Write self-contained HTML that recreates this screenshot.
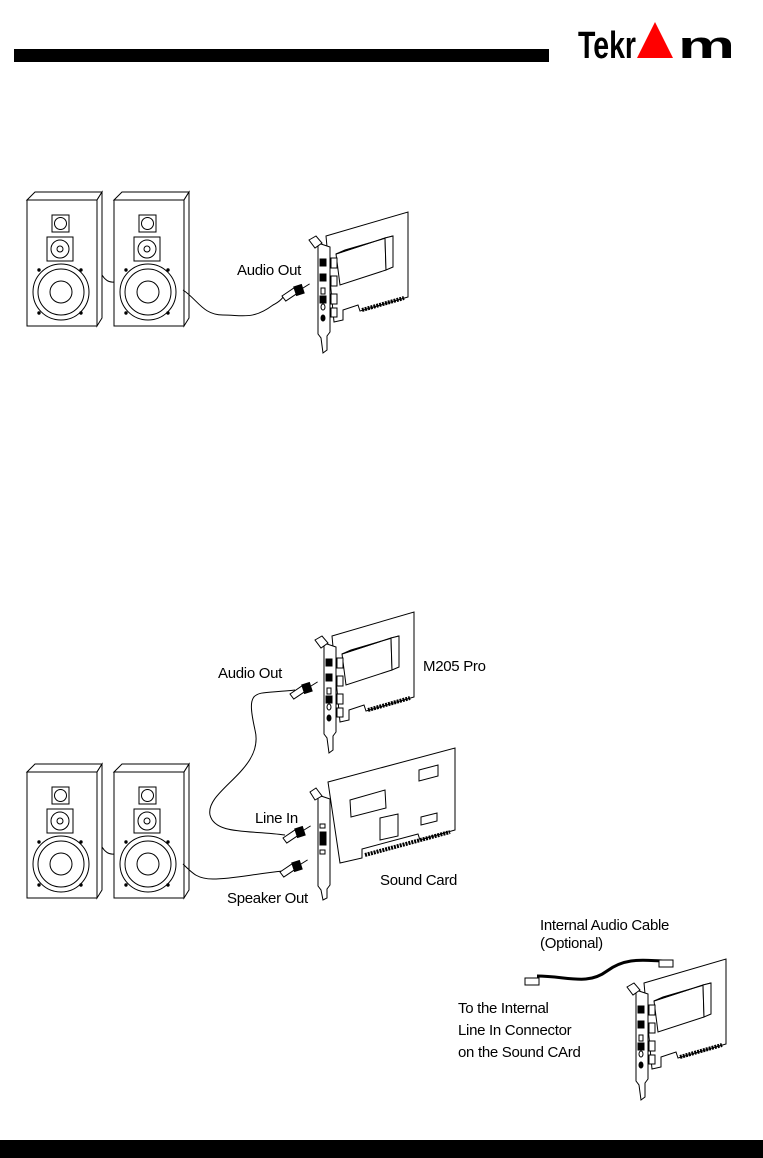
<!DOCTYPE html>
<html><head><meta charset="utf-8"><style>
html,body{margin:0;padding:0;background:#fff;}
svg{display:block;}
text{font-family:"Liberation Sans",sans-serif;font-size:15px;fill:#000;letter-spacing:-0.3px;}
</style></head><body>
<svg width="763" height="1158" viewBox="0 0 763 1158" xmlns="http://www.w3.org/2000/svg">
<defs>
<g id="spk" fill="#fff" stroke="#000" stroke-width="1">
  <polygon points="27,200 35,192 102,192 97,200"/>
  <rect x="27" y="200" width="70" height="126"/>
  <polygon points="97,200 102,192 102,318 97,326"/>
  <rect x="52" y="215" width="17" height="17"/><circle cx="60.5" cy="223.5" r="6"/>
  <rect x="47" y="237" width="26" height="24"/><circle cx="60" cy="249" r="9"/><circle cx="60" cy="249" r="3"/>
  <circle cx="61" cy="292" r="28"/><circle cx="61" cy="292" r="23"/><circle cx="61" cy="292" r="11"/>
  <circle cx="39" cy="270" r="1.2" fill="#000"/><circle cx="81" cy="270" r="1.2" fill="#000"/>
  <circle cx="39" cy="313" r="1.2" fill="#000"/><circle cx="81" cy="313" r="1.2" fill="#000"/>
</g>
<g id="spkpair">
  <use href="#spk"/>
  <use href="#spk" transform="translate(87,0)"/>
  <path d="M102,275 q5,8 12,7" fill="none" stroke="#000"/>
</g>
<g id="card" fill="#fff" stroke="#000" stroke-width="1">
  <polygon points="326,236 408,212 408,297 360,311 358,305 343,310 343,320 334,322"/>
  <polygon points="336,254 385,238 386,270 340,285"/>
  <polygon points="336,254 345,250 393,236 385,238"/>
  <polygon points="385,238 393,236 393,267 386,270"/>
  <path d="M362,310 l42,-12" stroke-width="4" stroke-dasharray="2,1"/>
  <rect x="331" y="258" width="6" height="10"/><rect x="331" y="276" width="6" height="10"/>
  <rect x="331" y="294" width="6" height="10"/><rect x="331" y="308" width="6" height="9"/>
  <polygon points="318,243 330,247 330,332 327,336 327,350 323,353 321,338 318,334"/>
  <polygon points="309,240 316,236 322,243 315,248"/>
  <rect x="320" y="259" width="6" height="7" fill="#000"/><rect x="320" y="274" width="6" height="7" fill="#000"/>
  <rect x="321" y="288" width="4" height="6"/><rect x="320" y="296" width="6" height="7" fill="#000"/>
  <ellipse cx="323" cy="307" rx="2" ry="3"/><ellipse cx="323" cy="318" rx="2" ry="3" fill="#000"/>
</g>
<g id="plug" stroke="#000" fill="#fff">
  <polygon points="0,0 14,-4 16,2 2,6"/><rect x="14" y="-5" width="8" height="9" fill="#000"/>
  <line x1="22" y1="-1" x2="30" y2="-3"/>
</g>
</defs>

<!-- header -->
<rect x="14" y="49" width="535" height="13" fill="#000"/>
<text x="578" y="58" textLength="58" lengthAdjust="spacingAndGlyphs" style="font-size:38px;font-weight:bold;letter-spacing:0">Tekr</text>
<polygon points="655,22 637,58 673,58" fill="#f00"/>
<text x="678" y="58" textLength="57" lengthAdjust="spacingAndGlyphs" style="font-size:38px;font-weight:bold;letter-spacing:0">m</text>

<!-- figure 1 -->
<use href="#spkpair"/>
<use href="#card"/>
<path d="M183,290 c15,10 20,25 40,25 c20,0 30,5 50,-10 c8,-4 10,-8 10,-8" fill="none" stroke="#000"/>
<use href="#plug" transform="translate(282,296) rotate(-18)"/>
<text x="237" y="275">Audio Out</text>

<!-- figure 2 -->
<use href="#spkpair" transform="translate(0,572)"/>
<use href="#card" transform="translate(6,400)"/>
<g fill="#fff" stroke="#000">
  <polygon points="328,782 455,748 455,830 420,840 418,834 362,849 362,858 340,863"/>
  <path d="M365,855 l85,-23" stroke-width="4" stroke-dasharray="2,1"/>
  <polygon points="350,800 385,790 386,808 351,817"/>
  <polygon points="419,770 438,765 438,776 419,781"/>
  <polygon points="380,818 398,814 398,836 380,840"/>
  <polygon points="421,817 437,813 437,821 421,825"/>
  <polygon points="318,795 330,799 330,885 327,889 327,898 323,900 321,890 318,886"/>
  <polygon points="310,792 316,788 322,796 315,800"/>
  <rect x="320" y="824" width="5" height="4"/><rect x="320" y="832" width="6" height="13" fill="#000"/><rect x="320" y="850" width="5" height="4"/>
</g>
<path d="M295,690 c-40,5 -50,-5 -40,40 c10,40 -50,60 -45,85 c5,20 40,15 75,20" fill="none" stroke="#000"/>
<use href="#plug" transform="translate(290,694) rotate(-18)"/>
<use href="#plug" transform="translate(283,838) rotate(-18)"/>
<path d="M183,864 c10,10 15,15 30,15 c20,0 40,-5 70,-8" fill="none" stroke="#000"/>
<use href="#plug" transform="translate(280,872) rotate(-18)"/>
<text x="218" y="678">Audio Out</text>
<text x="423" y="671">M205 Pro</text>
<text x="255" y="823">Line In</text>
<text x="380" y="885">Sound Card</text>
<text x="227" y="903">Speaker Out</text>

<!-- figure 3 -->
<use href="#card" transform="translate(318,747)"/>
<path d="M537,976 c30,0 50,10 70,-5 c20,-15 40,-10 58,-10" fill="none" stroke="#000" stroke-width="3"/>
<rect x="525" y="978" width="14" height="7" fill="#fff" stroke="#000"/>
<rect x="659" y="960" width="14" height="7" fill="#fff" stroke="#000"/>
<text x="540" y="930">Internal Audio Cable</text>
<text x="540" y="948">(Optional)</text>
<text x="458" y="1013">To the Internal</text>
<text x="458" y="1035">Line In Connector</text>
<text x="458" y="1057">on the Sound CArd</text>

<!-- footer -->
<rect x="0" y="1140" width="763" height="18" fill="#000"/>
</svg>
</body></html>
